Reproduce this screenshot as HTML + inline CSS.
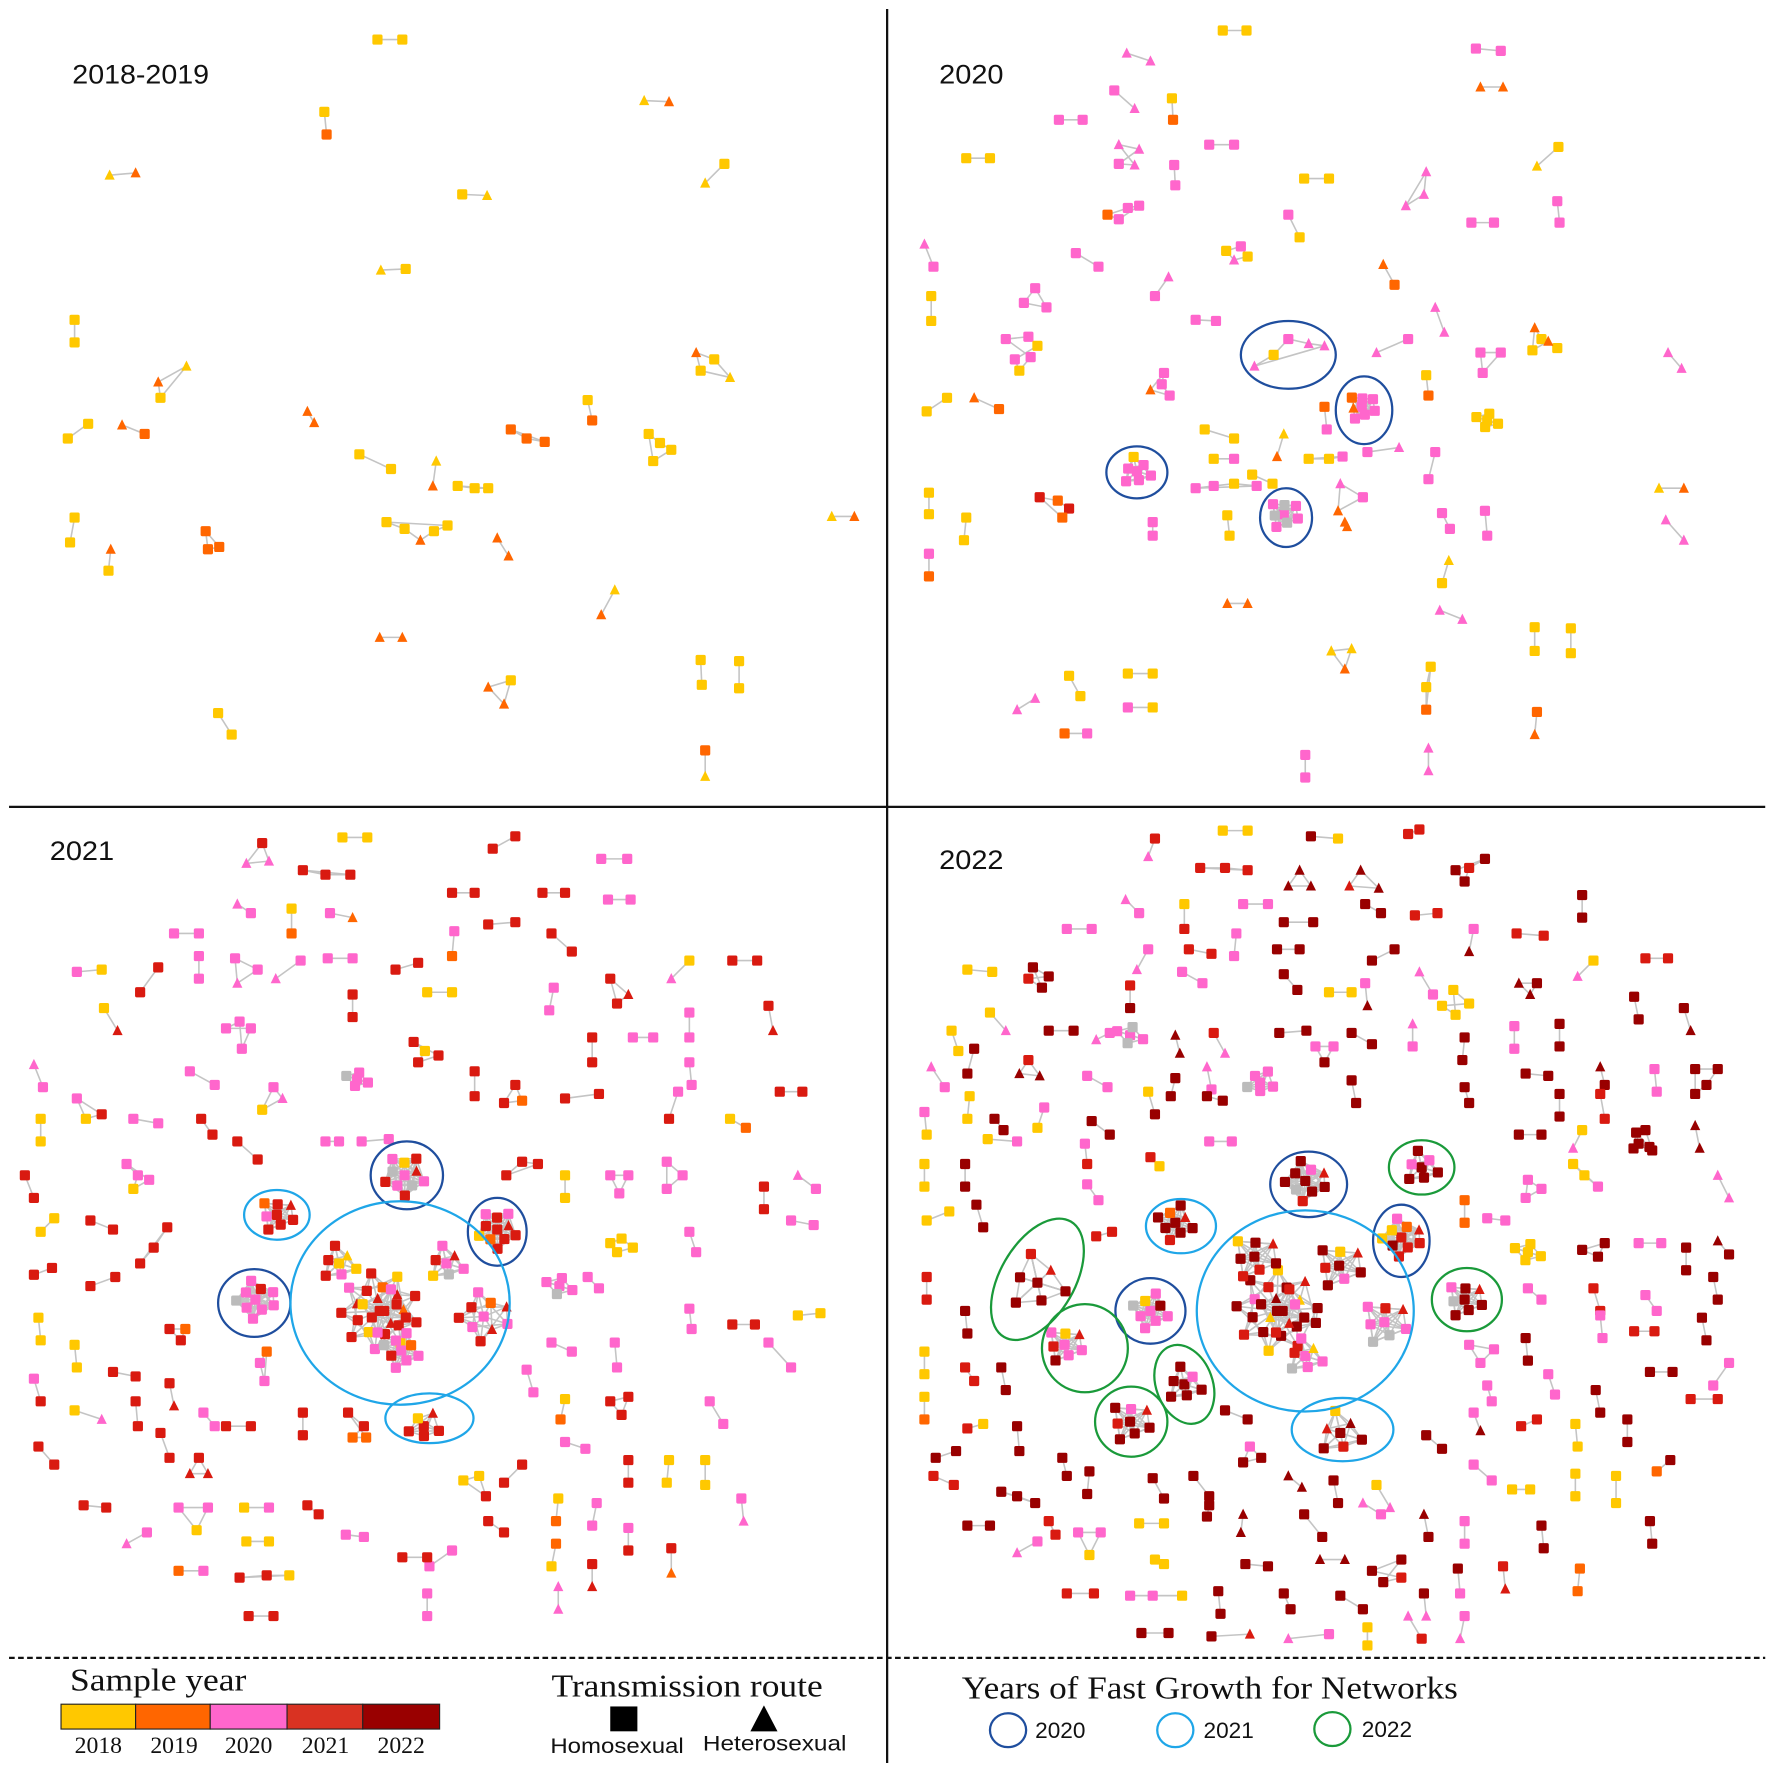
<!DOCTYPE html>
<html><head><meta charset="utf-8"><style>
html,body{margin:0;padding:0;background:#fff;}
svg{display:block;}
.lbl{font-family:"Liberation Sans",sans-serif;font-size:24px;fill:#111;}
.ser{font-family:"Liberation Serif",serif;fill:#111;}
</style></head><body>
<svg id="fig" width="1772" height="1772" viewBox="0 0 1568 1568" xmlns="http://www.w3.org/2000/svg">
<rect width="1568" height="1568" fill="#fff"/>
<g id="edges"></g>
<g id="nodes"></g>
<g id="rings"></g>
<line x1="785" y1="8" x2="785" y2="1560" stroke="#111" stroke-width="2"/>
<line x1="8" y1="714" x2="1562" y2="714" stroke="#111" stroke-width="2"/>
<line x1="8" y1="1467" x2="1562" y2="1467" stroke="#111" stroke-width="2" stroke-dasharray="5,3"/>
<text class="lbl" x="64" y="74" textLength="121" lengthAdjust="spacingAndGlyphs">2018-2019</text>
<text class="lbl" x="831" y="74" textLength="57" lengthAdjust="spacingAndGlyphs">2020</text>
<text class="lbl" x="44" y="761" textLength="57" lengthAdjust="spacingAndGlyphs">2021</text>
<text class="lbl" x="831" y="769" textLength="57" lengthAdjust="spacingAndGlyphs">2022</text>
<g>
<text class="ser" x="62" y="1496" font-size="28" textLength="156" lengthAdjust="spacingAndGlyphs">Sample year</text>
<rect x="54" y="1508" width="66" height="22" fill="#FFC800" stroke="#222"/>
<rect x="120" y="1508" width="66" height="22" fill="#FF6600" stroke="#222"/>
<rect x="186" y="1508" width="68" height="22" fill="#FF66CC" stroke="#222"/>
<rect x="254" y="1508" width="67" height="22" fill="#D93222" stroke="#222"/>
<rect x="321" y="1508" width="68" height="22" fill="#990000" stroke="#222"/>
<text class="ser" x="87" y="1551" font-size="21" text-anchor="middle">2018</text>
<text class="ser" x="154" y="1551" font-size="21" text-anchor="middle">2019</text>
<text class="ser" x="220" y="1551" font-size="21" text-anchor="middle">2020</text>
<text class="ser" x="288" y="1551" font-size="21" text-anchor="middle">2021</text>
<text class="ser" x="355" y="1551" font-size="21" text-anchor="middle">2022</text>
</g>
<g>
<text class="ser" x="488" y="1501" font-size="28" textLength="240" lengthAdjust="spacingAndGlyphs">Transmission route</text>
<rect x="540" y="1510" width="24" height="22" fill="#000"/>
<polygon points="664,1532 688,1532 676,1509" fill="#000"/>
<text x="487" y="1551" font-size="19" textLength="118" lengthAdjust="spacingAndGlyphs" font-family="Liberation Sans, sans-serif" fill="#111">Homosexual</text>
<text x="622" y="1549" font-size="19" textLength="127" lengthAdjust="spacingAndGlyphs" font-family="Liberation Sans, sans-serif" fill="#111">Heterosexual</text>
</g>
<g>
<text class="ser" x="851" y="1503" font-size="28" textLength="439" lengthAdjust="spacingAndGlyphs">Years of Fast Growth for Networks</text>
<ellipse cx="892" cy="1531" rx="16" ry="15" fill="none" stroke="#1F4E9E" stroke-width="2"/>
<text x="916" y="1538" font-size="20" font-family="Liberation Sans, sans-serif" fill="#111">2020</text>
<ellipse cx="1040" cy="1531" rx="16" ry="15" fill="none" stroke="#1FA6E8" stroke-width="2"/>
<text x="1065" y="1538" font-size="20" font-family="Liberation Sans, sans-serif" fill="#111">2021</text>
<ellipse cx="1179" cy="1530" rx="16" ry="15" fill="none" stroke="#1A9A3A" stroke-width="2"/>
<text x="1205" y="1537" font-size="20" font-family="Liberation Sans, sans-serif" fill="#111">2022</text>
</g>
</svg>
<script>
// colours: y=2018 o=2019 p=2020 r=2021 d=2022 g=grey ; uppercase = heterosexual (triangle)
const yearColors = {y:'#FFC800',o:'#FF6600',p:'#FF66CC',r:'#D91A10',d:'#990000',g:'#BBBBBB'};
// chain components [x,y,c, x,y,c, ...]
const panel1Components = [
[334,35,'y',356,35,'y'],[287,99,'y',289,119,'o'],[570,89,'Y',592,90,'O'],[97,155,'Y',120,153,'O'],[641,145,'y',624,162,'Y'],
[409,172,'y',431,173,'Y'],[337,239,'Y',359,238,'y'],[66,283,'y',66,303,'y'],[142,352,'y',140,338,'O',165,324,'Y'],
[616,312,'O',620,328,'y',646,334,'Y',632,318,'y'],[520,354,'y',524,372,'o'],[272,364,'O',278,374,'O'],[60,388,'y',78,375,'y'],
[108,376,'O',128,384,'o'],[452,380,'o',466,388,'o',482,391,'o'],[574,384,'y',578,408,'y',594,398,'y',584,392,'y'],
[318,402,'y',346,415,'y'],[386,408,'Y',383,430,'O'],[405,430,'y',420,432,'y',432,432,'y'],
[342,462,'y',358,468,'y',372,478,'O',384,470,'y',396,465,'y'],[66,458,'y',62,480,'y'],[182,470,'o',184,486,'o',194,484,'o'],
[98,486,'O',96,505,'y'],[440,476,'O',450,492,'O'],[736,457,'Y',756,457,'O'],[544,522,'Y',532,544,'O'],[336,564,'O',356,564,'O'],
[620,584,'y',621,606,'y'],[654,585,'y',654,609,'y'],[432,608,'O',452,602,'y',446,623,'O'],[193,631,'y',205,650,'y'],[624,664,'o',624,687,'Y']
];
const panel2Components = [
[1082,27,'y',1103,27,'y'],[1306,43,'p',1328,45,'p'],[997,47,'P',1018,54,'P'],[1310,77,'O',1330,77,'O'],[986,80,'p',1004,96,'P'],
[1037,87,'y',1038,106,'o'],[937,106,'p',958,106,'p'],[1070,128,'p',1092,128,'p'],[990,128,'P',1008,132,'P',990,145,'p',1004,146,'P'],
[1039,146,'p',1040,164,'p'],[855,140,'y',876,140,'y'],[1154,158,'y',1176,158,'y'],[1379,130,'y',1360,147,'Y'],
[1262,152,'P',1260,172,'P',1244,182,'P'],[980,190,'o',998,184,'p',1008,182,'p',990,194,'p'],[1378,178,'p',1380,197,'p'],
[1140,190,'p',1150,210,'y'],[1302,197,'p',1322,197,'p'],[818,216,'P',826,236,'p'],[1085,222,'y',1098,218,'p',1104,227,'y',1092,230,'P'],
[952,224,'p',972,236,'p'],[1224,234,'O',1234,252,'o'],[916,255,'p',906,268,'p',926,272,'p'],[824,262,'y',824,284,'y'],
[1034,245,'P',1022,262,'p'],[1270,272,'P',1278,294,'P'],[1058,283,'p',1076,284,'p'],
[890,300,'p',910,298,'p',918,306,'y',898,318,'p',902,328,'y',912,316,'p'],[1358,290,'O',1364,300,'y',1378,308,'y',1370,302,'O',1356,310,'y'],
[1218,312,'P',1246,300,'p'],[1310,312,'p',1328,312,'p',1312,330,'p'],[1476,312,'P',1488,326,'P'],
[1030,330,'p',1018,345,'O',1035,350,'p',1028,340,'p'],[1262,332,'y',1264,350,'o'],[820,364,'y',838,352,'y'],[862,352,'O',884,362,'o'],
[1110,324,'P',1127,314,'y',1140,300,'p',1158,304,'P',1172,306,'P'],[1172,360,'o',1174,380,'p'],[1066,380,'y',1092,388,'y'],
[1136,384,'Y',1130,404,'O'],[1158,406,'y',1176,406,'y',1188,404,'p'],[1210,400,'p',1238,396,'P'],[1270,400,'p',1264,424,'p'],
[1058,432,'p',1074,430,'p',1092,428,'y',1112,430,'p'],[1074,406,'y',1092,406,'p'],[1108,420,'y',1126,428,'y'],
[1186,428,'P',1206,440,'p',1184,452,'O'],[920,440,'r',936,443,'o',946,450,'r',940,458,'o'],[822,436,'y',822,455,'y'],
[855,458,'y',853,478,'y'],[1020,462,'p',1020,474,'p'],[1086,456,'y',1088,474,'y'],[1190,462,'O',1192,466,'O'],
[1276,454,'p',1283,468,'p'],[1314,452,'p',1316,474,'p'],[1468,432,'Y',1490,432,'O'],[1474,460,'P',1490,478,'P'],
[822,490,'p',822,510,'o'],[1282,496,'Y',1276,516,'y'],[1086,534,'O',1104,534,'O'],[1274,540,'P',1294,548,'P'],
[1358,555,'y',1358,576,'y'],[1390,556,'y',1390,578,'y'],[1178,576,'Y',1196,574,'Y',1190,592,'O'],[1266,590,'y',1262,608,'y',1262,628,'o'],
[946,598,'y',956,616,'y'],[998,596,'y',1020,596,'y'],[900,628,'P',916,618,'P'],[998,626,'p',1020,626,'y'],[1360,630,'o',1358,650,'O'],
[942,649,'o',962,649,'p'],[1264,662,'P',1264,682,'P'],[1155,668,'p',1155,688,'p']
];
const panel3Components = [
[303,741,'y',325,741,'y'],[232,746,'r',218,764,'P',238,762,'P'],[268,770,'r',288,774,'r',310,774,'r'],[436,751,'r',456,740,'r'],[532,760,'p',555,760,'p'],
[210,800,'P',222,808,'p'],[258,804,'y',258,826,'o'],[292,808,'p',312,812,'O'],[400,790,'r',420,790,'r'],[480,790,'r',500,790,'r'],[538,796,'p',558,796,'p'],
[402,824,'p',400,846,'o'],[432,818,'r',456,816,'r'],[488,826,'r',506,842,'r'],[154,826,'p',176,826,'p'],[266,850,'p',244,866,'P'],[290,848,'p',312,848,'p'],
[350,858,'r',370,852,'r'],[176,846,'p',176,866,'p'],[648,850,'r',670,850,'r'],[610,850,'y',594,866,'P'],[68,860,'p',90,858,'y'],[124,878,'r',140,856,'r'],
[208,848,'p',210,870,'P',228,858,'p'],[312,880,'r',312,900,'r'],[378,878,'y',400,878,'y'],[540,866,'r',556,880,'R',546,888,'r'],[490,874,'p',486,894,'p'],
[92,892,'y',104,912,'R'],[610,896,'p',610,918,'p'],[680,890,'r',684,912,'R'],[200,910,'p',212,904,'p',214,928,'p',222,910,'p'],
[366,922,'r',376,930,'y',370,940,'r',388,934,'r'],[524,918,'r',524,940,'r'],[560,918,'p',578,918,'p'],[420,948,'r',420,970,'r'],
[456,960,'r',462,974,'o',446,976,'r'],[30,942,'P',38,962,'p'],[168,948,'p',190,960,'p'],[242,962,'p',232,982,'y',250,972,'P'],[610,940,'p',612,960,'p'],
[690,966,'r',710,966,'r'],[68,972,'p',76,990,'y',90,986,'r'],[118,990,'p',140,994,'p'],[178,990,'r',188,1004,'r'],[210,1010,'r',228,1026,'r'],
[500,972,'r',530,968,'r'],[600,966,'p',592,990,'r'],[646,990,'y',660,998,'o'],[36,990,'y',36,1010,'y'],[112,1030,'p',122,1040,'p',118,1052,'y',132,1044,'p'],
[22,1040,'r',30,1060,'r'],[288,1010,'p',300,1010,'p'],[320,1010,'p',344,1008,'p'],[462,1028,'r',476,1030,'r',448,1040,'r'],[500,1040,'y',500,1060,'y'],
[540,1040,'p',556,1040,'p',548,1056,'p'],[590,1028,'p',604,1040,'p',590,1052,'p'],[676,1050,'r',676,1070,'r'],[706,1040,'P',722,1052,'p'],
[36,1090,'y',48,1078,'y'],[80,1080,'r',100,1088,'r'],[148,1086,'r',136,1104,'r',124,1118,'r'],[540,1100,'y',550,1096,'y',560,1104,'y',546,1108,'y'],
[610,1090,'p',616,1108,'p'],[700,1080,'p',720,1084,'p'],[30,1128,'r',46,1122,'r'],[80,1138,'r',102,1130,'r'],[150,1176,'r',164,1176,'o',160,1186,'r'],
[34,1166,'y',36,1186,'y'],[520,1130,'p',530,1140,'p'],[610,1158,'p',612,1176,'p'],[648,1172,'r',668,1172,'r'],[706,1164,'y',726,1162,'y'],
[680,1188,'p',700,1210,'p'],[66,1190,'y',68,1210,'y'],[100,1214,'r',120,1218,'r'],[236,1196,'o',230,1206,'p',234,1222,'p'],[488,1188,'p',506,1196,'p'],[544,1188,'p',546,1210,'p'],
[30,1220,'p',36,1240,'r'],[150,1224,'r',154,1244,'R'],[120,1240,'r',122,1262,'r'],[66,1248,'y',90,1256,'P'],[180,1250,'p',190,1262,'p'],
[200,1262,'r',222,1262,'r'],[268,1250,'r',268,1270,'r'],[308,1250,'r',322,1262,'r',312,1272,'o',324,1272,'o'],[466,1212,'p',472,1232,'p'],[500,1238,'y',496,1256,'o'],
[540,1240,'r',556,1236,'r',550,1252,'r'],[628,1240,'p',640,1260,'p'],[34,1280,'r',48,1296,'r'],[142,1268,'r',150,1290,'r'],
[176,1290,'r',168,1304,'R',184,1304,'R'],[500,1276,'p',518,1282,'p'],[592,1292,'y',590,1312,'y'],[624,1292,'y',624,1314,'y'],
[410,1310,'y',424,1306,'y',430,1324,'r'],[462,1296,'r',446,1312,'r'],[556,1292,'r',556,1312,'r'],[74,1332,'r',94,1334,'r'],
[158,1334,'p',184,1334,'p',174,1354,'y'],[216,1334,'y',238,1334,'p'],[272,1332,'r',282,1340,'r'],[494,1326,'y',492,1346,'o'],[528,1330,'p',524,1350,'p'],
[656,1326,'p',658,1346,'P'],[432,1346,'r',446,1356,'r'],[112,1366,'P',130,1356,'p'],[218,1364,'y',238,1364,'y'],[306,1358,'p',322,1360,'p'],
[400,1372,'p',380,1386,'p'],[492,1366,'o',488,1386,'y'],[556,1352,'p',556,1372,'r'],[594,1370,'r',594,1392,'O'],[158,1390,'o',180,1390,'p'],
[212,1396,'r',236,1394,'r',256,1394,'y'],[356,1378,'r',378,1378,'r'],[524,1384,'r',524,1404,'R'],[378,1410,'p',378,1430,'p'],
[220,1430,'r',242,1430,'r'],[494,1404,'P',494,1424,'P']
];
const panel4Components = [
[1082,735,'y',1104,735,'y'],[1022,742,'r',1016,758,'P'],[1160,740,'d',1184,742,'y'],[1246,738,'r',1256,734,'r'],
[1314,760,'d',1288,770,'d',1296,780,'d',1300,768,'r'],[1062,768,'r',1084,768,'r',1104,770,'r'],[1150,770,'D',1140,784,'D',1160,784,'D'],
[1204,770,'D',1194,784,'R',1220,786,'D'],[1400,792,'d',1400,812,'d'],[1100,800,'p',1122,800,'p'],[996,796,'P',1008,808,'p'],[1048,800,'y',1048,822,'r'],
[1136,816,'d',1162,816,'d'],[1252,810,'r',1272,808,'r'],[1208,800,'d',1222,808,'d'],[944,822,'p',966,822,'p'],[1342,826,'r',1366,828,'r'],
[1304,822,'p',1300,842,'D'],[1094,826,'p',1092,846,'p'],[1234,840,'d',1214,850,'d'],[1016,840,'p',1006,858,'P'],[1052,840,'r',1072,844,'r'],
[1130,840,'d',1150,840,'d'],[914,856,'d',922,874,'d',910,866,'r',928,864,'d'],[856,858,'y',878,860,'y'],[1000,872,'r',1000,892,'d'],
[1046,860,'p',1064,870,'p'],[1136,862,'d',1148,876,'d'],[1208,870,'p',1210,890,'D'],[1256,860,'P',1268,880,'p'],[1410,850,'y',1396,864,'P'],
[1456,848,'r',1476,848,'r'],[1176,878,'y',1196,878,'y'],[1286,876,'y',1300,888,'y',1276,890,'y',1288,898,'y'],[1344,870,'D',1354,880,'D',1360,870,'d'],
[1446,882,'d',1450,902,'d'],[842,912,'y',848,930,'y'],[876,896,'y',890,912,'P'],[928,912,'d',950,912,'d'],[970,920,'P',982,914,'p'],
[1040,916,'D',1044,932,'D'],[1074,914,'r',1084,932,'P'],[1132,914,'d',1156,912,'d'],[1164,926,'p',1172,940,'d',1180,926,'p'],
[1196,914,'d',1214,924,'d'],[1250,906,'P',1250,926,'p'],[1296,918,'d',1294,938,'d'],[1340,908,'p',1340,928,'p'],[1380,906,'d',1380,926,'d'],
[1490,892,'d',1496,912,'D'],[824,944,'P',836,962,'p'],[862,928,'d',856,950,'d'],[910,938,'r',902,950,'D',920,952,'D'],[962,952,'p',980,962,'p'],
[1040,954,'d',1036,970,'d'],[1068,944,'P',1072,964,'p'],[1296,962,'d',1300,976,'d'],[1350,950,'d',1370,952,'d'],[1416,944,'D',1420,960,'d'],
[1464,946,'p',1466,966,'p'],[1500,946,'d',1520,946,'d',1510,960,'d',1500,968,'d'],[818,984,'p',820,1004,'y'],[858,970,'y',856,990,'y'],
[880,990,'d',888,1000,'d'],[924,980,'p',918,998,'y'],[966,992,'d',982,1004,'d'],[1016,966,'y',1022,986,'d'],[1068,970,'d',1082,974,'d'],
[1196,956,'d',1200,976,'d'],[1380,968,'d',1380,988,'d'],[1416,968,'r',1420,990,'r'],[1456,1000,'d',1462,1018,'d'],[1500,996,'D',1504,1016,'D'],
[818,1030,'y',818,1050,'y'],[854,1030,'d',854,1050,'d'],[874,1008,'y',900,1010,'p'],[960,1012,'p',962,1030,'r'],[1018,1024,'r',1026,1032,'y'],
[1070,1010,'p',1090,1010,'p'],[1344,1004,'d',1364,1004,'d'],[1400,1000,'y',1392,1016,'P'],[1352,1044,'p',1364,1052,'p',1350,1060,'p'],
[1392,1030,'y',1402,1040,'y',1414,1050,'p'],[1520,1040,'P',1530,1060,'P'],[820,1080,'y',840,1072,'y'],[864,1066,'d',870,1086,'d'],
[962,1048,'p',972,1062,'p'],[970,1094,'r',984,1090,'r'],[1296,1062,'o',1296,1082,'o'],[1316,1078,'p',1332,1080,'p'],
[1400,1106,'d',1414,1112,'d',1420,1100,'d'],[1450,1100,'p',1470,1100,'p'],[1492,1104,'d',1492,1124,'d'],[1520,1098,'D',1530,1110,'d'],
[820,1130,'r',820,1150,'r'],[854,1160,'d',856,1180,'d'],[1352,1140,'p',1364,1150,'p'],[1410,1140,'r',1416,1160,'r'],[1456,1146,'p',1466,1160,'p'],
[1516,1130,'d',1520,1150,'d'],[818,1196,'y',818,1216,'y'],[854,1210,'r',862,1222,'r'],[1300,1190,'p',1322,1194,'p',1310,1206,'p'],
[1350,1184,'d',1352,1204,'d'],[1416,1164,'p',1418,1184,'p'],[1446,1178,'r',1464,1178,'r'],[1506,1166,'d',1510,1186,'d'],[1530,1206,'p',1516,1226,'p'],
[818,1236,'y',818,1256,'o'],[886,1210,'d',890,1230,'d'],[1316,1226,'p',1320,1240,'p'],[1370,1216,'p',1376,1234,'p'],
[1412,1230,'d',1416,1250,'d'],[1460,1214,'d',1480,1214,'d'],[1496,1238,'r',1520,1238,'r'],[828,1290,'d',846,1284,'d'],[856,1264,'r',870,1260,'y'],
[900,1262,'d',902,1284,'d'],[940,1290,'d',944,1306,'d'],[1084,1248,'d',1104,1256,'d'],[1106,1280,'p',1116,1290,'d',1100,1294,'d'],[1262,1270,'d',1276,1282,'d'],
[1304,1250,'p',1310,1266,'D'],[1346,1262,'r',1360,1256,'r'],[1394,1260,'y',1396,1280,'y'],[1440,1256,'d',1440,1276,'d'],[1478,1292,'d',1466,1302,'o'],
[826,1306,'r',844,1314,'r'],[886,1320,'d',900,1324,'d',916,1330,'d'],[964,1302,'d',962,1322,'d'],[1020,1308,'d',1030,1326,'d'],[1056,1306,'d',1070,1324,'d'],
[1140,1306,'D',1152,1316,'D'],[1180,1310,'d',1184,1330,'d'],[1218,1314,'y',1230,1334,'P'],[1304,1296,'p',1320,1310,'p'],[1338,1318,'y',1354,1318,'y'],
[1394,1304,'y',1394,1324,'y'],[1430,1306,'y',1430,1330,'y'],[856,1350,'d',876,1350,'d'],[928,1346,'r',934,1358,'r'],[1008,1348,'y',1030,1348,'y'],
[1070,1332,'d',1068,1342,'d'],[1100,1340,'D',1098,1356,'D'],[1154,1340,'d',1170,1360,'d'],[1206,1330,'P',1222,1340,'p'],[1260,1340,'D',1264,1360,'d'],
[1296,1346,'p',1296,1366,'p'],[1364,1350,'d',1366,1370,'d'],[1460,1346,'d',1462,1366,'d'],[900,1374,'P',918,1364,'p'],[954,1356,'p',964,1376,'y',974,1356,'p'],
[1022,1380,'y',1030,1384,'y'],[1102,1384,'d',1122,1386,'d'],[1168,1380,'D',1190,1380,'D'],[1214,1390,'d',1240,1380,'d',1224,1400,'d',1240,1396,'r'],
[1290,1388,'d',1292,1410,'p'],[1330,1386,'r',1332,1406,'R'],[1398,1388,'o',1396,1408,'o'],[944,1410,'r',968,1410,'r'],[1000,1412,'p',1020,1412,'p',1046,1412,'y'],
[1078,1408,'d',1080,1428,'d'],[1136,1410,'d',1142,1424,'d'],[1186,1412,'d',1206,1424,'d'],[1260,1410,'d',1262,1430,'P'],[1010,1445,'d',1034,1445,'d'],
[1072,1448,'d',1106,1446,'R'],[1140,1450,'P',1176,1446,'p'],[1210,1440,'y',1210,1456,'y'],[1246,1430,'P',1258,1450,'r'],[1296,1430,'p',1292,1450,'P']
];
// dense hub clusters [cx, cy, radius, member colours]
const hubClusters = [
[1205,360,12,'pppOopp'],[1006,417,13,'ppppyp'],[1136,455,13,'pgpgpgp'],[1316,372,10,'yyyy'],
[358,1040,18,'pgrprgpyrR'],[440,1088,17,'rrroyrprpR'],[245,1075,15,'rrrporR'],[226,1150,17,'ppppgpprp'],[316,955,10,'ppgp'],
[336,1160,34,'rryrpyrrrRprroyRrO'],[340,1160,20,'rRpryRpr'],[355,1195,16,'ppprgppo'],[428,1165,22,'pRrprrpoR'],[300,1118,16,'yprrrY'],[395,1118,16,'pgyrpR'],[375,1262,14,'rrryR'],[495,1138,12,'pgpp'],
[1155,1045,18,'ddrgdddpR'],[1240,1095,17,'rrrdyypoR'],[1040,1082,16,'ddrddodR'],[1258,1033,15,'dddpdp'],[1018,1160,16,'ppppgypd'],[1296,1150,16,'dddgpdR'],
[1115,958,12,'ppgpp'],[1000,916,12,'pgpg'],[1130,1160,36,'ddrdydrddpdrydRYd'],[1135,1160,20,'dRrYdDrp'],[1110,1112,20,'drrdydR'],[1185,1120,20,'dpdrdyR'],[1155,1200,16,'ppgrpY'],
[1225,1170,20,'pggpprR'],[942,1190,16,'ppdrpyR'],[1048,1225,16,'dddddp'],[1000,1258,18,'dddrdpR'],[918,1135,26,'ddddrR'],[1186,1268,20,'drdRyD'],
[1352,1108,12,'yyyy'],[1450,1012,10,'ddd']
];
// highlighted fast-growth ellipses [cx, cy, rx, ry, rotation, year]
const growthEllipses = [
[1140,314,42,30,0,2020],[1207,363,25,30,0,2020],[1006,418,27,23,0,2020],[1138,458,23,26,0,2020],
[360,1040,32,30,0,2020],[440,1090,26,30,0,2020],[225,1153,32,30,0,2020],[245,1075,29,22,0,2021],[354,1153,97,90,0,2021],[380,1255,39,22,0,2021],
[1158,1048,34,29,0,2020],[1240,1098,25,32,0,2020],[1018,1160,31,29,0,2020],[1045,1085,31,24,0,2021],[1155,1160,96,89,0,2021],[1188,1265,45,28,0,2021],
[1258,1033,29,24,0,2022],[918,1132,33,59,30,2022],[960,1193,38,39,0,2022],[1298,1150,31,28,0,2022],[1048,1225,25,36,-20,2022],[1001,1258,32,31,0,2022]
];
const ringColors = {2020:'#1F4E9E',2021:'#1FA6E8',2022:'#1A9A3A'};

const NS='http://www.w3.org/2000/svg';
const eg=document.getElementById('edges'), ng=document.getElementById('nodes'), rg=document.getElementById('rings');
function edge(x1,y1,x2,y2){
  const l=document.createElementNS(NS,'line');
  l.setAttribute('x1',x1);l.setAttribute('y1',y1);l.setAttribute('x2',x2);l.setAttribute('y2',y2);
  l.setAttribute('stroke','#C4C4C4');l.setAttribute('stroke-width','1.4');
  
  
  eg.appendChild(l);
}
function node(x,y,c){
  const tri=(c===c.toUpperCase());
  const col=yearColors[c.toLowerCase()];
  let el;
  if(tri){
    el=document.createElementNS(NS,'polygon');
    el.setAttribute('points',(x-4.5)+','+(y+4)+' '+(x+4.5)+','+(y+4)+' '+x+','+(y-5));
  } else {
    el=document.createElementNS(NS,'rect');
    el.setAttribute('x',x-4.5);el.setAttribute('y',y-4.5);el.setAttribute('width',9);el.setAttribute('height',9);el.setAttribute('rx',1.5);
  }
  el.setAttribute('fill',col);
  
  
  ng.appendChild(el);
}
function drawChains(list){
  list.forEach(comp=>{
    const pts=[];for(let i=0;i<comp.length;i+=3)pts.push(comp.slice(i,i+3));
    for(let i=1;i<pts.length;i++)edge(pts[i-1][0],pts[i-1][1],pts[i][0],pts[i][1]);
    if(pts.length>=3)edge(pts[0][0],pts[0][1],pts[pts.length-1][0],pts[pts.length-1][1]);
    pts.forEach(p=>node(p[0],p[1],p[2]));
  });
}
[panel1Components,panel2Components,panel3Components,panel4Components].forEach(drawChains);
hubClusters.forEach(h=>{
  const [cx,cy,r,cols]=h;const n=cols.length;const pts=[];
  for(let i=0;i<n;i++){const a=i/n*Math.PI*2+0.3;const rr=(i%2?r*0.62:r);pts.push([cx+rr*Math.cos(a),cy+rr*Math.sin(a),cols[i]]);}
  pts.forEach((p,i)=>{edge(cx,cy,p[0],p[1]);
    if(r<=20){for(let j=i+1;j<n;j++)edge(p[0],p[1],pts[j][0],pts[j][1]);}
    else {const q=pts[(i+1)%n];edge(p[0],p[1],q[0],q[1]);const q2=pts[(i+3)%n];edge(p[0],p[1],q2[0],q2[1]);}
  });
  node(cx,cy,cols[0]);
  pts.forEach(p=>node(p[0],p[1],p[2]));
});
growthEllipses.forEach(e=>{
  const el=document.createElementNS(NS,'ellipse');
  el.setAttribute('cx',e[0]);el.setAttribute('cy',e[1]);el.setAttribute('rx',e[2]);el.setAttribute('ry',e[3]);
  el.setAttribute('transform','rotate('+e[4]+' '+e[0]+' '+e[1]+')');
  el.setAttribute('fill','none');el.setAttribute('stroke',ringColors[e[5]]);el.setAttribute('stroke-width','2');
  
  
  rg.appendChild(el);
});
</script>
</body></html>
